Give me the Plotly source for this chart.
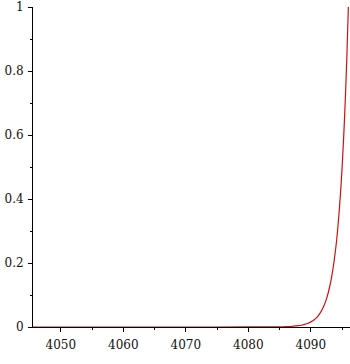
import plotly.graph_objects as go

# values
x_vals = [4045.5, 4050, 4060, 4070, 4080, 4084, 4085, 4086, 4087, 4088, 4088.5, 4089, 4089.5,
          4090, 4090.5, 4091, 4091.5, 4092, 4092.5, 4093, 4093.5, 4094, 4094.25, 4094.5,
          4094.75, 4095, 4095.25, 4095.5, 4095.75, 4096]
y_vals = [0.0, 0.0, 0.0, 0.0, 0.0001, 0.0002, 0.0005, 0.001, 0.002, 0.004, 0.0055, 0.008, 0.011,
          0.016, 0.022, 0.031, 0.044, 0.0625, 0.088, 0.125, 0.177, 0.25, 0.297, 0.354,
          0.42, 0.5, 0.595, 0.707, 0.84, 1.0]

x_ticks = [4050, 4060, 4070, 4080, 4090]
y_ticks = [0, 0.2, 0.4, 0.6, 0.8, 1]
y_tick_text = ["0", "0.2", "0.4", "0.6", "0.8", "1"]

fig = go.Figure()
fig.add_trace(go.Scatter(x=x_vals, y=y_vals, mode="lines",
                         line=dict(color="#d01010", width=1.2, shape="spline", smoothing=0.6),
                         hoverinfo="skip"))

font = dict(family="DejaVu Serif", size=12, color="#111111")

fig.update_layout(
    width=350, height=364,
    margin=dict(l=33, r=0, t=5, b=37),
    paper_bgcolor="white", plot_bgcolor="white",
    showlegend=False,
    font=font,
    xaxis=dict(range=[4045.55, 4096.26], tickvals=x_ticks, ticks="outside", ticklen=4,
               tickcolor="black", showline=True, linecolor="black", linewidth=1,
               showgrid=False, zeroline=False, ticklabelstandoff=3, tickfont=font,
               ticklabeloverflow="allow",
               minor=dict(dtick=5, tick0=4045, ticks="outside", ticklen=2, tickcolor="black")),
    yaxis=dict(range=[0, 1], tickvals=y_ticks, ticktext=y_tick_text, ticks="outside",
               ticklen=4, tickcolor="black", showline=True, linecolor="black", linewidth=1,
               showgrid=False, zeroline=False, ticklabelstandoff=2, tickfont=font,
               ticklabeloverflow="allow",
               minor=dict(dtick=0.1, tick0=0, ticks="outside", ticklen=2, tickcolor="black")),
)

fig.write_html("out.html")
